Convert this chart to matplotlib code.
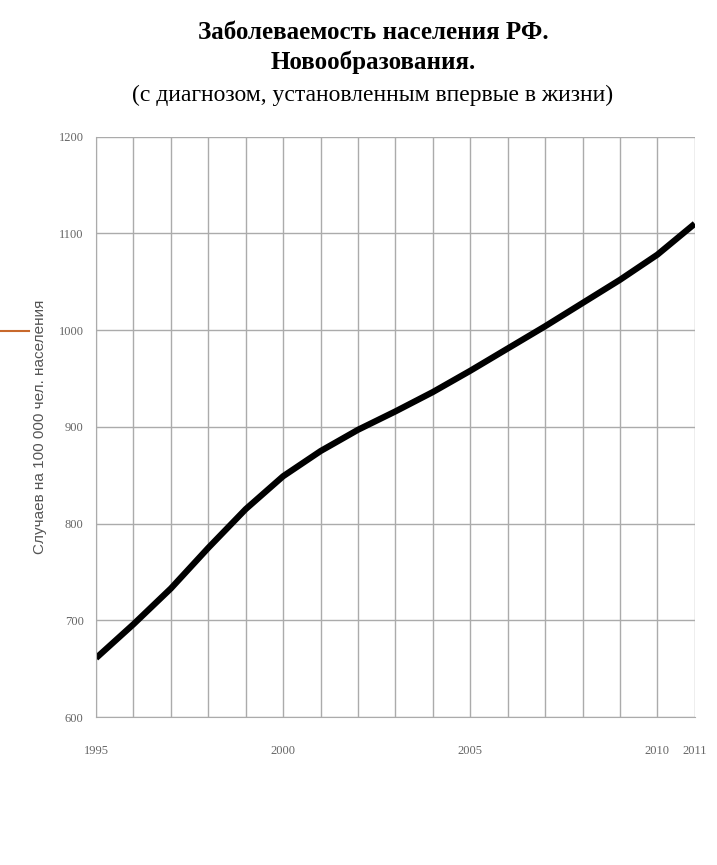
import matplotlib.pyplot as plt
from matplotlib.lines import Line2D

# данные
years = [1995, 1996, 1997, 1998, 1999, 2000, 2001, 2002, 2003,
         2004, 2005, 2006, 2007, 2008, 2009, 2010, 2011]
cases = [661, 696, 733, 775, 815, 849, 875, 897, 916,
         936, 958, 981, 1004, 1028, 1052, 1078, 1110]
xticks = [1995, 2000, 2005, 2010, 2011]
yticks = [600, 700, 800, 900, 1000, 1100, 1200]

plt.rcParams['font.family'] = ['Liberation Serif', 'DejaVu Serif']

fig = plt.figure(figsize=(7.17, 8.65), dpi=100)
ax = fig.add_axes([0.134, 0.171, 0.835, 0.671])

ax.plot(years, cases, color='black', linewidth=4.5, solid_capstyle='butt',
        solid_joinstyle='round')

ax.set_xlim(1995, 2011)
ax.set_ylim(600, 1200)
ax.set_xticks(range(1995, 2012), minor=True)
ax.set_xticks(xticks)
ax.set_yticks(yticks)
ax.grid(True, which='both', axis='x', color='#ababab', linewidth=1)
ax.grid(True, which='major', axis='y', color='#ababab', linewidth=1)
ax.tick_params(which='both', length=0, labelsize=9, colors='#666666')
ax.tick_params(axis='x', pad=20)
ax.tick_params(axis='y', pad=9)
for s in ['top', 'right']:
    ax.spines[s].set_visible(False)
for s in ['left', 'bottom']:
    ax.spines[s].set_color('#ababab')

ax.set_ylabel('Случаев на 100 000 чел. населения', fontsize=11,
              family=['Liberation Sans'], color='#555555', labelpad=8)

fig.text(0.52, 0.962, 'Заболеваемость населения РФ.', ha='center',
         va='center', fontsize=18, fontweight='bold')
fig.text(0.52, 0.928, 'Новообразования.', ha='center', va='center',
         fontsize=18, fontweight='bold')
fig.text(0.52, 0.890, '(с диагнозом, установленным впервые в жизни)',
         ha='center', va='center', fontsize=17)

# оранжевая черточка слева (элемент слайда)
fig.add_artist(Line2D([0, 0.04], [0.617, 0.617], color='#c8692c',
                      linewidth=1.5, transform=fig.transFigure))

fig.savefig('out.png', dpi=100)
